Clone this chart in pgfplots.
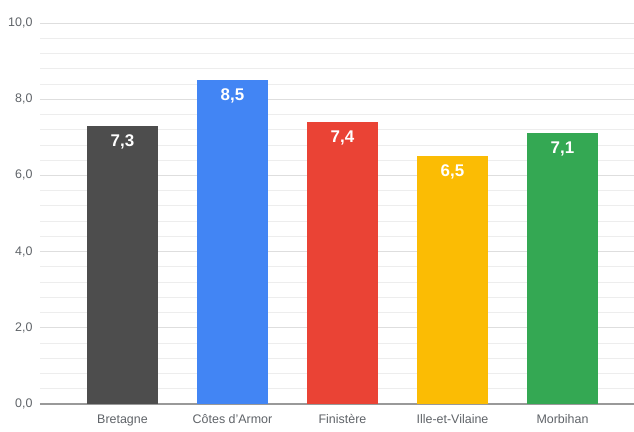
\documentclass[border=0pt]{standalone}
\usepackage{pgfplots}
\pgfplotsset{compat=1.18}
\usepackage{fontspec}
\setmainfont{Liberation Sans}
\definecolor{cgray}{HTML}{4D4D4D}
\definecolor{cblue}{HTML}{4285F4}
\definecolor{cred}{HTML}{EA4335}
\definecolor{cyellow}{HTML}{FBBC04}
\definecolor{cgreen}{HTML}{34A853}
\definecolor{ctext}{HTML}{5F6368}
\begin{document}
\begin{tikzpicture}
\useasboundingbox (0,0) rectangle (634bp,432bp);
\begin{axis}[
  at={(40bp,28bp)}, anchor=south west,
  scale only axis, width=594bp, height=381bp,
  ymin=0, ymax=10,
  xmin=-0.75, xmax=4.65,
  ytick={0,2,4,6,8,10},
  minor y tick num=4,
  xtick={0,1,2,3,4},
  xticklabels={Bretagne,Côtes d'Armor,Finistère,Ille-et-Vilaine,Morbihan},
  ymajorgrids, yminorgrids,
  major grid style={draw=black!13, line width=0.8bp},
  minor grid style={draw=black!7, line width=0.8bp},
  axis y line*=left,
  y axis line style={draw=none},
  axis x line*=bottom,
  x axis line style={draw=black!40, line width=1.2bp},
  major tick length=0pt, minor tick length=0pt,
  tick style={draw=none},
  /pgf/number format/assume math mode=true,
  ticklabel style={font=\fontsize{12.5}{14}\selectfont, text=ctext},
  yticklabel style={xshift=-4bp, /pgf/number format/fixed, /pgf/number format/fixed zerofill, /pgf/number format/precision=1, /pgf/number format/use comma},
  xticklabel style={yshift=-7bp},
  ybar, bar width=71bp,
  nodes near coords,
  nodes near coords style={font=\fontsize{17}{19}\selectfont\bfseries, text=white, anchor=north, yshift=-5bp,
    /pgf/number format/fixed, /pgf/number format/fixed zerofill, /pgf/number format/precision=1, /pgf/number format/use comma},
  clip=false,
]
\addplot[fill=cgray, draw=none, bar shift=0pt] coordinates {(0,7.3)};
\addplot[fill=cblue, draw=none, bar shift=0pt] coordinates {(1,8.5)};
\addplot[fill=cred, draw=none, bar shift=0pt] coordinates {(2,7.4)};
\addplot[fill=cyellow, draw=none, bar shift=0pt] coordinates {(3,6.5)};
\addplot[fill=cgreen, draw=none, bar shift=0pt] coordinates {(4,7.1)};
\end{axis}
\end{tikzpicture}
\end{document}
